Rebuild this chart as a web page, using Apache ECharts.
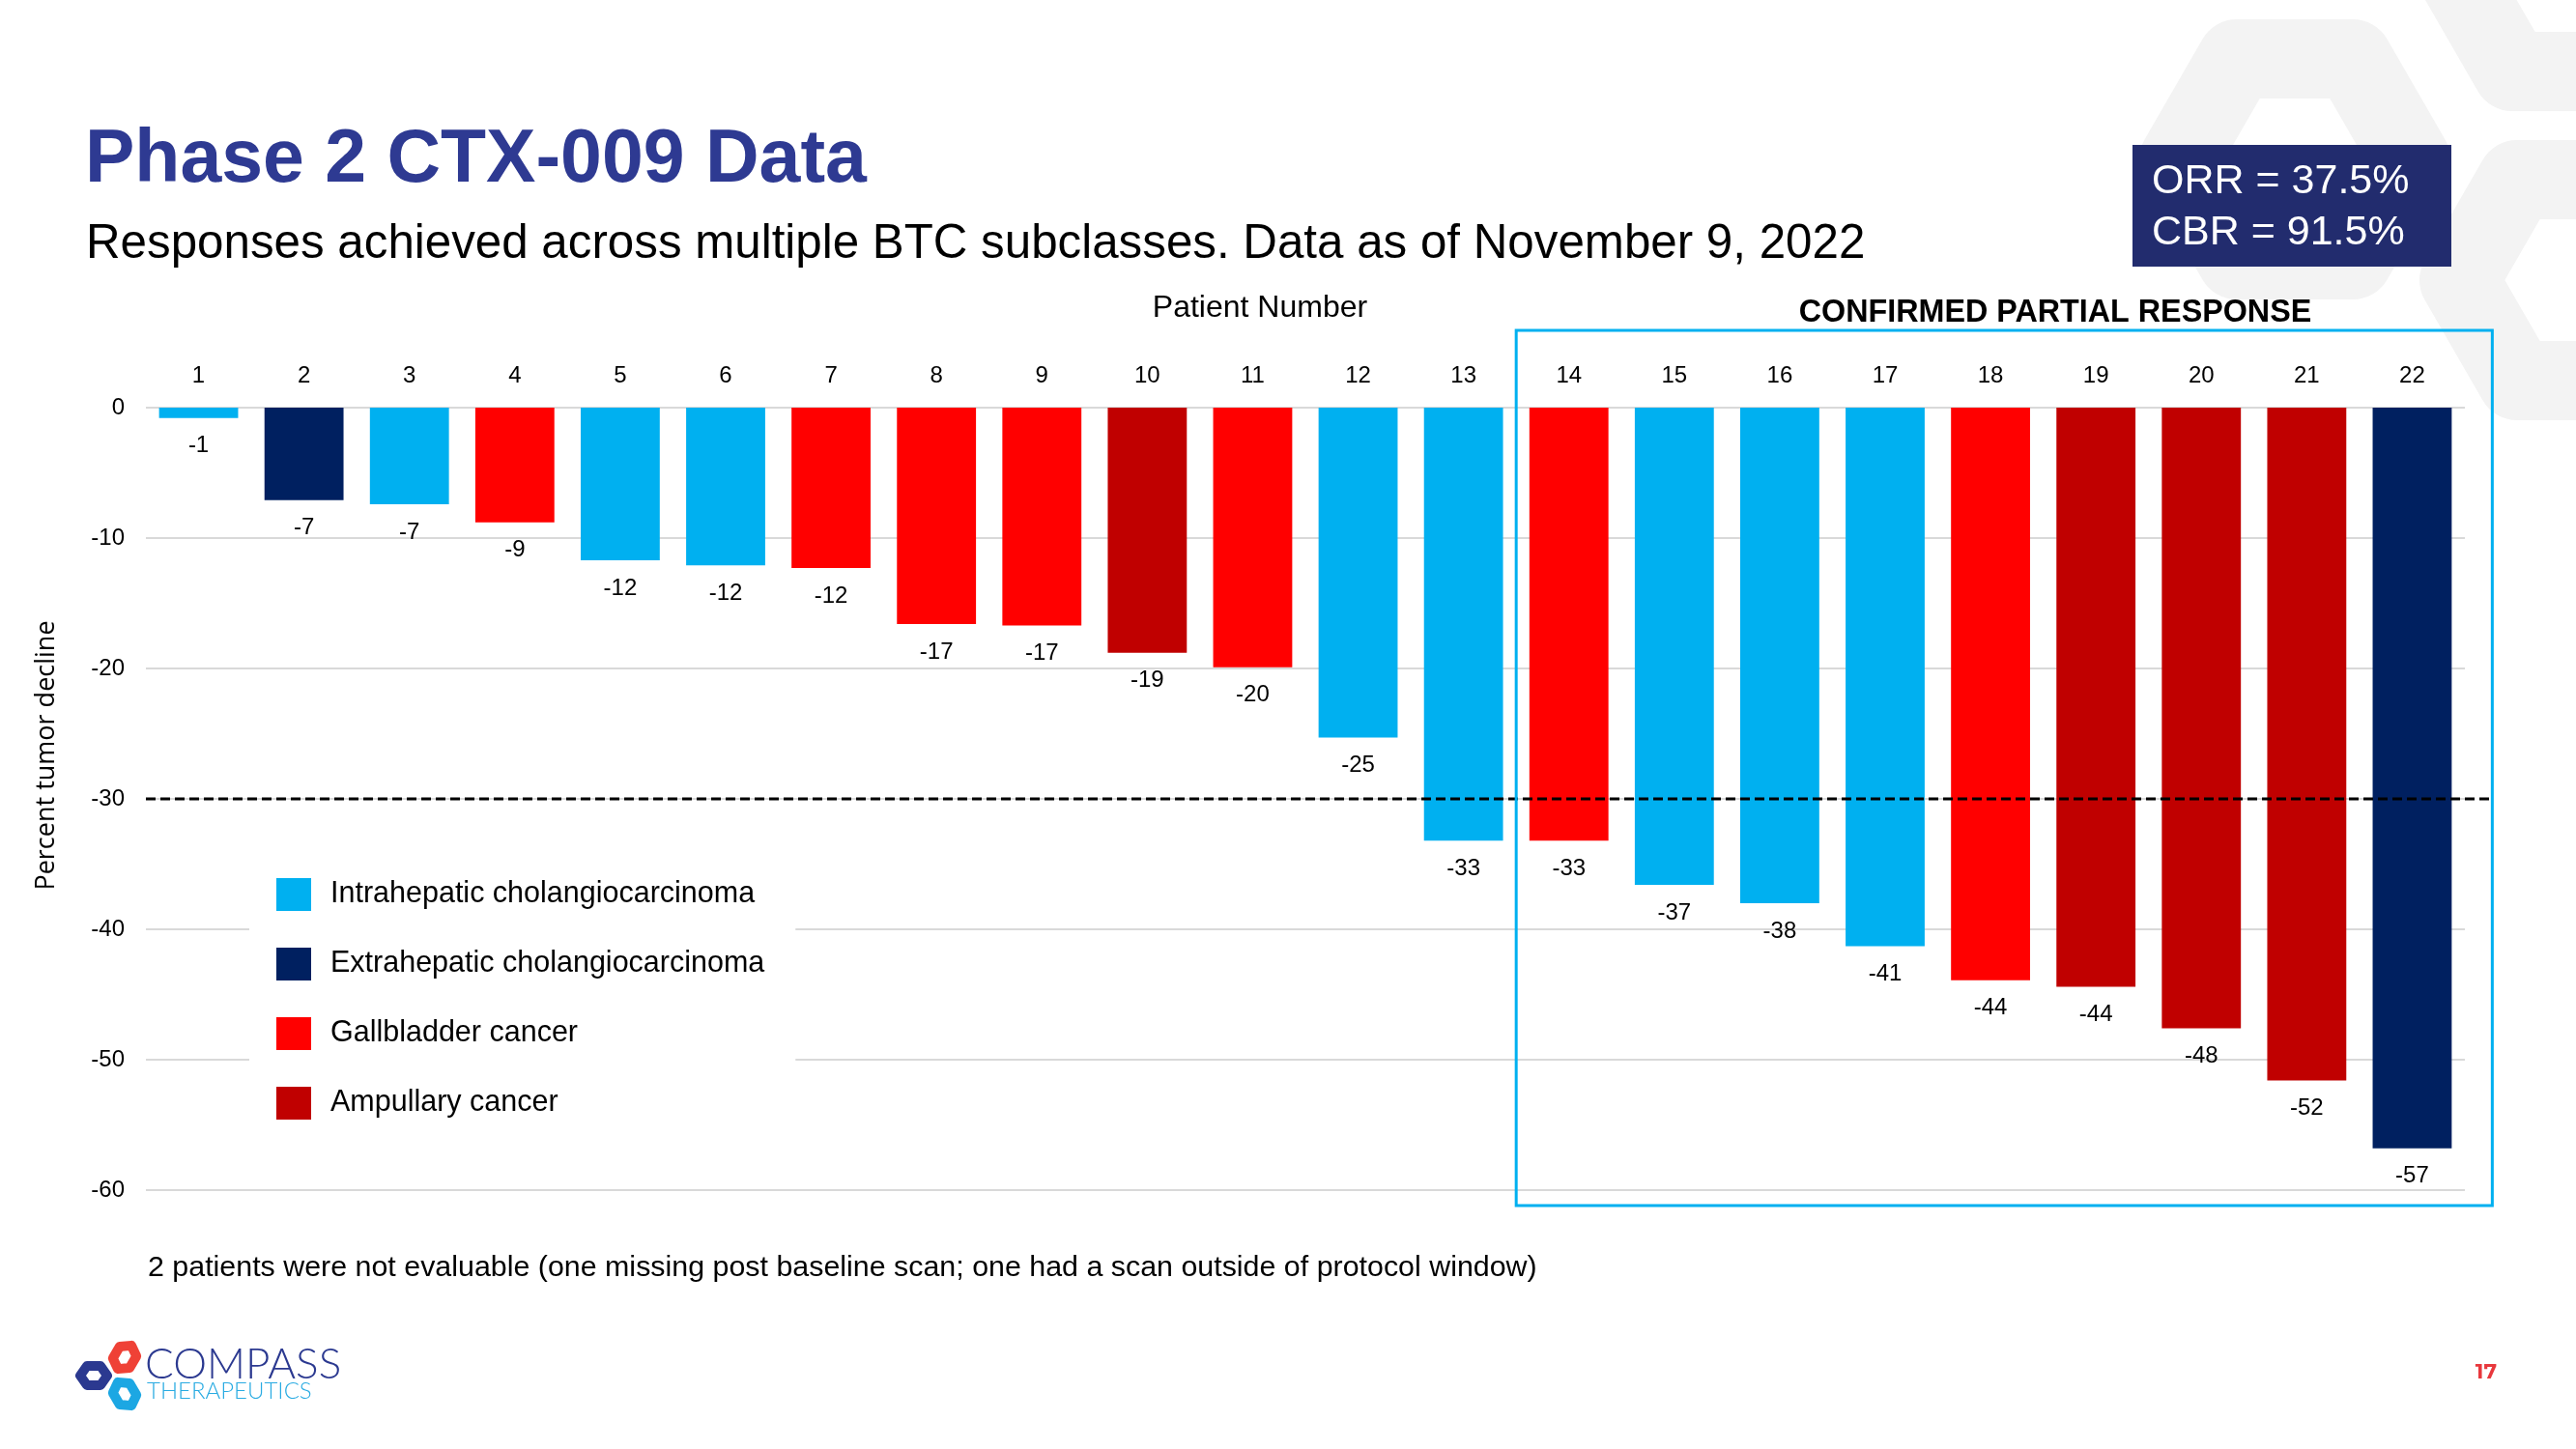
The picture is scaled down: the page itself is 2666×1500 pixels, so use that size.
<!DOCTYPE html>
<html><head><meta charset="utf-8">
<script src="https://cdn.jsdelivr.net/npm/echarts@6/dist/echarts.min.js"></script>
<style>html,body{margin:0;padding:0;background:#fff}#c{width:2666px;height:1500px}</style>
</head><body><div id="c"></div>
<script>
// ---- data ----
const patients = ['1','2','3','4','5','6','7','8','9','10','11','12','13','14','15','16','17','18','19','20','21','22'];
const declines = [-0.8,-7.1,-7.4,-8.8,-11.7,-12.1,-12.3,-16.6,-16.7,-18.8,-19.9,-25.3,-33.2,-33.2,-36.6,-38.0,-41.3,-43.9,-44.4,-47.6,-51.6,-56.8];
const valueLabels = [-1,-7,-7,-9,-12,-12,-12,-17,-17,-19,-20,-25,-33,-33,-37,-38,-41,-44,-44,-48,-52,-57];
// 0 intrahepatic, 1 extrahepatic, 2 gallbladder, 3 ampullary
const subtypeOf = [0,1,0,2,0,0,2,2,2,3,2,0,0,2,0,0,0,2,3,3,3,1];
const subtypeNames = ['Intrahepatic cholangiocarcinoma','Extrahepatic cholangiocarcinoma','Gallbladder cancer','Ampullary cancer'];
const subtypeColors = ['#00B0F0','#002060','#FF0000','#C00000'];
const yMin = -60, yMax = 0, yStep = 10;
const responseThreshold = -30;
const firstResponder = '14';
const orrText = 'ORR = 37.5%';
const cbrText = 'CBR = 91.5%';

const FONT = '"Liberation Sans", Arial, Helvetica, sans-serif';
const chart = echarts.init(document.getElementById('c'));

const series = subtypeNames.map((name, k) => ({
  name, type: 'bar', stack: 'all', barWidth: '75%',
  itemStyle: { color: subtypeColors[k] },
  data: declines.map((v, i) => subtypeOf[i] === k ? v : '-'),
  label: {
    show: true, position: 'bottom', distance: 17,
    formatter: p => String(valueLabels[p.dataIndex]),
    fontFamily: FONT, fontSize: 24, color: '#000'
  },
  emphasis: { disabled: true }
}));

const option = {
  backgroundColor: '#fff',
  animation: false,
  textStyle: { fontFamily: FONT },
  title: [
    { text: 'Phase 2 CTX-009 Data', left: 88, top: 128, padding: 0,
      textStyle: { fontFamily: FONT, fontSize: 77, fontWeight: 'bold', color: '#2E3A92' } },
    { text: 'Responses achieved across multiple BTC subclasses. Data as of November 9, 2022', left: 89, top: 229, padding: 0,
      textStyle: { fontFamily: FONT, fontSize: 49.3, fontWeight: 'normal', color: '#000' } }
  ],
  grid: { left: 151, right: 115, top: 422, bottom: 268, containLabel: false },
  legend: {
    data: subtypeNames, orient: 'vertical', left: 258, top: 894,
    itemWidth: 36, itemHeight: 34, itemGap: 38, icon: 'rect',
    backgroundColor: '#fff', padding: [15, 32, 15, 28], selectedMode: false,
    textStyle: { fontFamily: FONT, fontSize: 30.5, color: '#000', padding: [0, 0, 0, 15] }
  },
  xAxis: {
    type: 'category', data: patients, position: 'top',
    axisLine: { show: false }, axisTick: { show: false },
    axisLabel: { fontFamily: FONT, fontSize: 24, color: '#000', margin: 21 },
    name: 'Patient Number', nameLocation: 'middle', nameGap: 87,
    nameTextStyle: { fontFamily: FONT, fontSize: 32, color: '#000', padding: [0, 94, 0, 0] }
  },
  yAxis: {
    type: 'value', min: yMin, max: yMax, interval: yStep,
    axisLine: { show: false }, axisTick: { show: false },
    axisLabel: { fontFamily: FONT, fontSize: 24, color: '#000', margin: 22 },
    splitLine: { lineStyle: { color: '#D9D9D9', width: 2 } },
    name: 'Percent tumor decline', nameLocation: 'middle', nameGap: 89, nameRotate: 90,
    nameTextStyle: { fontFamily: '"Open Sans", sans-serif', fontSize: 27, color: '#000', padding: [0, 0, 0, 90] }
  },
  series
};
chart.setOption(option);

// ---- decorations anchored to the axes ----
function hexPoints(cx, cy, rx, ry) {
  return [[cx + rx, cy], [cx + rx / 2, cy - ry], [cx - rx / 2, cy - ry], [cx - rx, cy], [cx - rx / 2, cy + ry], [cx + rx / 2, cy + ry]];
}
const c13 = chart.convertToPixel({ xAxisIndex: 0 }, patients[patients.indexOf(firstResponder) - 1]);
const c14 = chart.convertToPixel({ xAxisIndex: 0 }, firstResponder);
const cLast = chart.convertToPixel({ xAxisIndex: 0 }, patients[patients.length - 1]);
const bandW = c14 - c13;
const yZero = chart.convertToPixel({ yAxisIndex: 0 }, yMax);
const yBottom = chart.convertToPixel({ yAxisIndex: 0 }, yMin);
const yThr = chart.convertToPixel({ yAxisIndex: 0 }, responseThreshold);
const frameL = (c13 + c14) / 2;
const frameR = cLast + bandW * 0.76;
const frameT = yZero - 80;
const frameB = yBottom + 16;
const gridL = chart.convertToPixel({ xAxisIndex: 0 }, patients[0]) - bandW / 2;

const wm = '#F3F3F3';
chart.setOption({
  graphic: [
    // faint watermark logo
    { type: 'polygon', z: -10, silent: true, shape: { points: hexPoints(2375, 165, 120, 104) },
      style: { fill: null, stroke: wm, lineWidth: 82, lineJoin: 'round' } },
    { type: 'polygon', z: -10, silent: true, shape: { points: hexPoints(2660, -30, 120, 104) },
      style: { fill: null, stroke: wm, lineWidth: 82, lineJoin: 'round' } },
    { type: 'polygon', z: -10, silent: true, shape: { points: hexPoints(2665, 290, 120, 104) },
      style: { fill: null, stroke: wm, lineWidth: 82, lineJoin: 'round' } },
    // ORR box
    { type: 'rect', z: 10, shape: { x: 2207, y: 150, width: 330, height: 126 }, style: { fill: '#222C6E' } },
    { type: 'text', z: 11, x: 2227, y: 188, style: { text: orrText, fill: '#fff', font: '43px ' + FONT, textVerticalAlign: 'middle' } },
    { type: 'text', z: 11, x: 2227, y: 241, style: { text: cbrText, fill: '#fff', font: '43px ' + FONT, textVerticalAlign: 'middle' } },
    // confirmed partial response frame
    { type: 'text', z: 10, x: 2127, y: 324, style: { text: 'CONFIRMED PARTIAL RESPONSE', fill: '#000', font: 'bold 32.3px ' + FONT, textAlign: 'center', textVerticalAlign: 'middle' } },
    { type: 'rect', z: 10, shape: { x: frameL, y: frameT, width: frameR - frameL, height: frameB - frameT },
      style: { fill: null, stroke: '#00B0F0', lineWidth: 3 } },
    // threshold dashed line
    { type: 'line', z: 9, shape: { x1: gridL, y1: yThr, x2: frameR, y2: yThr },
      style: { stroke: '#000', lineWidth: 3, lineDash: [10, 5] } },
    // footnote
    { type: 'text', z: 10, x: 153, y: 1313, style: { text: '2 patients were not evaluable (one missing post baseline scan; one had a scan outside of protocol window)', fill: '#000', font: '30.4px ' + FONT, textVerticalAlign: 'middle' } },
    // logo
    { type: 'polygon', z: 10, shape: { points: hexPoints(97, 1424, 14, 10) },
      style: { fill: null, stroke: '#2B3990', lineWidth: 10, lineJoin: 'round' } },
    { type: 'polygon', z: 10, x: 129, y: 1405, rotation: Math.PI / 3, shape: { points: hexPoints(0, 0, 14, 10) },
      style: { fill: null, stroke: '#EF4136', lineWidth: 10, lineJoin: 'round' } },
    { type: 'polygon', z: 10, x: 129, y: 1443, rotation: -Math.PI / 3, shape: { points: hexPoints(0, 0, 14, 10) },
      style: { fill: null, stroke: '#1CA7E3', lineWidth: 10, lineJoin: 'round' } },
    { type: 'text', z: 10, x: 150, y: 1413, style: { text: 'COMPASS', fill: '#2B3990', font: '300 44px Lato, "Open Sans", sans-serif', textVerticalAlign: 'middle' } },
    { type: 'text', z: 10, x: 152, y: 1440, style: { text: 'THERAPEUTICS', fill: '#29ABE2', font: '300 24px Lato, "Open Sans", sans-serif', textVerticalAlign: 'middle' } },
    // page number
    { type: 'text', z: 10, x: 2573, y: 1421, style: { text: '17', fill: '#E8383D', font: 'bold 22px Montserrat, "Open Sans", sans-serif', textAlign: 'center', textVerticalAlign: 'middle' } }
  ]
});
</script></body></html>
